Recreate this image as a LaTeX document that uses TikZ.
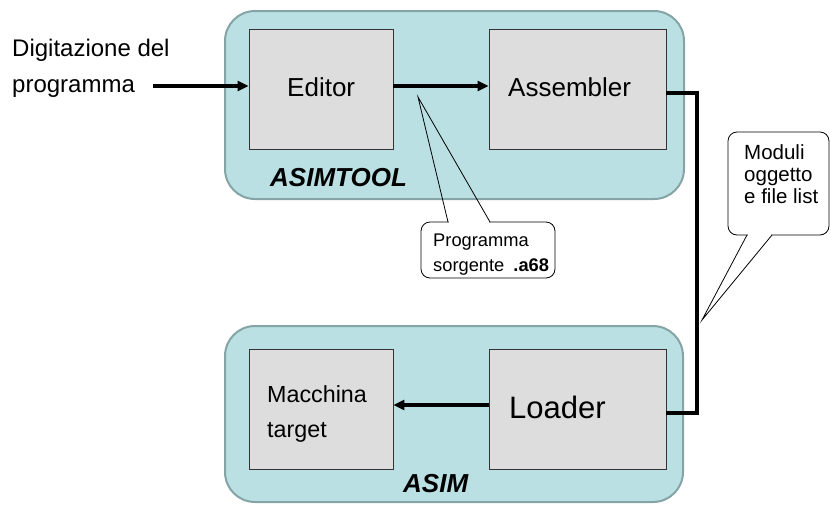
\documentclass[tikz,border=0pt]{standalone}
\usepackage{fontspec}
\setmainfont{Liberation Sans}
\usetikzlibrary{arrows.meta}
\definecolor{contfill}{RGB}{186,224,228}
\definecolor{contdraw}{RGB}{132,164,166}
\definecolor{boxfill}{RGB}{221,221,221}
\tikzset{
  container/.style={draw=contdraw, fill=contfill, line width=2pt, rounded corners=30pt},
  blockbox/.style={draw=black!80, fill=boxfill, line width=0.9pt, minimum width=#1, minimum height=120pt, inner sep=0pt},
  conn/.style={line width=3.6pt, line join=miter},
  arr/.style={conn, -{Triangle[length=11pt,width=10pt]}},
  callout/.style={draw=black, fill=white, line width=0.8pt, rounded corners=9pt},
  ptr/.style={draw=black, line width=0.8pt},
  gap/.style={draw=white, line width=2pt},
  txt/.style={inner sep=0pt, anchor=base west},
}
\begin{document}
\begin{tikzpicture}[x=1pt,y=-1pt]
\useasboundingbox (0,0) rectangle (830,504);
% containers
\draw[container] (225,11) rectangle (684,199);
\draw[container] (225,326) rectangle (683,502);
% boxes
\node[blockbox=144pt] (editor) at (321,89) {};
\node[blockbox=177pt] (asm) at (577.5,89) {};
\node[blockbox=144pt] (mac) at (321,409) {};
\node[blockbox=177pt] (loader) at (577.5,409) {};
% texts
\node[txt, font=\fontsize{24}{28}\selectfont] (dig1) at (12,56) {Digitazione del};
\node[txt, font=\fontsize{24}{28}\selectfont] (dig2) at (12,92) {programma};
\node[txt, font=\fontsize{26}{30}\selectfont] (edtxt) at (287,96) {Editor};
\node[txt, font=\fontsize{26}{30}\selectfont] (asmtxt) at (508,96) {Assembler};
\node[txt, font=\fontsize{31}{35}\selectfont] (ldtxt) at (509,418) {Loader};
\node[txt, font=\fontsize{23.3}{26}\selectfont] (mac1) at (267,402) {Macchina};
\node[txt, font=\fontsize{23.3}{26}\selectfont] (mac2) at (267,437) {target};
\node[txt, font=\fontsize{26}{30}\selectfont\bfseries\itshape] (tool) at (270,186) {ASIMTOOL};
\node[txt, font=\fontsize{26}{30}\selectfont\bfseries\itshape] (asim) at (403,492) {ASIM};
% connectors
\coordinate (in) at (153,86);
\coordinate (bus) at (697,250);
\draw[arr] (in) -- ([yshift=3pt]editor.west);
\draw[arr] ([yshift=3pt]editor.east) -- ([yshift=3pt]asm.west);
\draw[conn] ([yshift=-4pt]asm.east) -| (bus) |- ([yshift=-4pt]loader.east);
\draw[arr] ([yshift=4pt]loader.west) -- ([yshift=4pt]mac.east);
% callout 1
\draw[callout] (421,222) rectangle (555,278);
\coordinate (tip1) at (418,97);
\draw[gap] (448.6,222) -- (489.4,222);
\draw[ptr] (448,222) -- (tip1) -- (490,222);
\node[txt, font=\fontsize{18.3}{22}\selectfont] (cal1a) at (433,246) {Programma};
\node[txt, font=\fontsize{18.3}{22}\selectfont] (cal1b) at (433,271) {sorgente\hspace{9pt}\textbf{.a68}};
% callout 2
\draw[callout] (728,132) rectangle (829,235);
\coordinate (tip2) at (702,320);
\draw[gap] (747.6,235) -- (771.4,235);
\draw[ptr] (747,235) -- (tip2) -- (772,235);
\node[txt, font=\fontsize{20.5}{24}\selectfont] (cal2a) at (744,159) {Moduli};
\node[txt, font=\fontsize{20.5}{24}\selectfont] (cal2b) at (744,181) {oggetto};
\node[txt, font=\fontsize{20.5}{24}\selectfont] (cal2c) at (744,203) {e file list};
\end{tikzpicture}
\end{document}
